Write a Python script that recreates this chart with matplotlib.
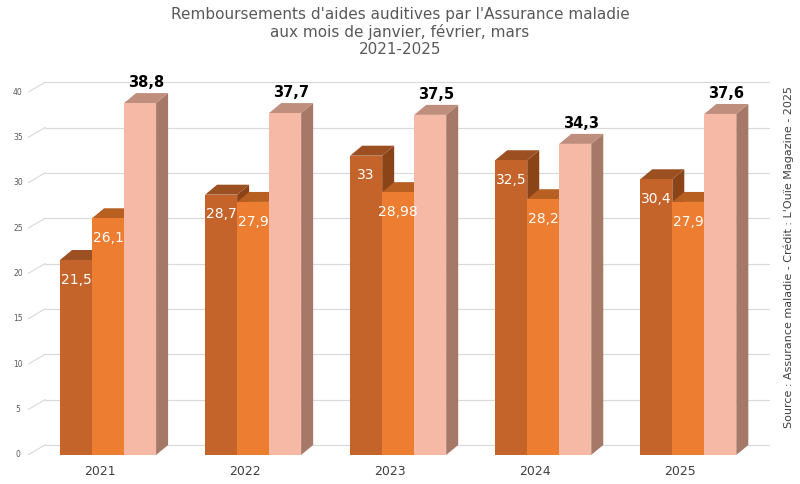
import matplotlib
matplotlib.use("Agg")
import matplotlib.pyplot as plt
from matplotlib.patches import Polygon
import numpy as np

years = ["2021", "2022", "2023", "2024", "2025"]
s1 = [21.5, 28.7, 33, 32.5, 30.4]
s2 = [26.1, 27.9, 28.98, 28.2, 27.9]
s3 = [38.8, 37.7, 37.5, 34.3, 37.6]
lab1 = ["21,5", "28,7", "33", "32,5", "30,4"]
lab2 = ["26,1", "27,9", "28,98", "28,2", "27,9"]
lab3 = ["38,8", "37,7", "37,5", "34,3", "37,6"]
yticks = [0, 5, 10, 15, 20, 25, 30, 35, 40]

colors = [("#C5642A", "#8A4418", "#9C4F21"),
          ("#ED7D31", "#A9561F", "#B85F22"),
          ("#F5B9A5", "#A57868", "#C08E7D")]

fig = plt.figure(figsize=(8, 4.84), dpi=100)
ax = fig.add_axes([0.035, 0.06, 0.928, 0.787])
ax.set_xlim(-0.552, 4.566)
ax.set_ylim(0, 42)
ax.axis("off")

w = 32 / 145
dx = 12 / 145
dy = 1.1
gx0 = -0.552 + 17 / 145
for t in yticks:
    ax.plot([gx0, 4.566], [t + dy, t + dy], color="#D9D9D9", lw=0.8, zorder=0)
    ax.plot([-0.552, gx0], [t, t + dy], color="#D9D9D9", lw=0.8, zorder=0)
    ax.text(-0.552 - 10 / 145, t, str(t), fontsize=5.5, color="#595959",
            ha="center", va="center")

for i in range(len(years)):
    for k, (vals, labs) in enumerate([(s1, lab1), (s2, lab2), (s3, lab3)]):
        v = vals[i]
        x0 = i - 1.5 * w + k * w
        front, side, top = colors[k]
        z = 2 + k
        ax.add_patch(Polygon([(x0 + w, 0), (x0 + w + dx, dy), (x0 + w + dx, v + dy), (x0 + w, v)],
                             closed=True, fc=side, ec="none", zorder=z))
        ax.add_patch(Polygon([(x0, v), (x0 + dx, v + dy), (x0 + w + dx, v + dy), (x0 + w, v)],
                             closed=True, fc=top, ec="none", zorder=z))
        ax.bar(x0, v, width=w, align="edge", color=front, zorder=z)
        if k < 2:
            ax.text(x0 + w / 2, v - 1.4, labs[i], color="white", fontsize=10,
                    ha="center", va="top", zorder=10)
        else:
            ax.text(x0 + w / 2 + dx / 2, v + dy + 0.3, labs[i], color="black", fontsize=10.5,
                    fontweight="bold", ha="center", va="bottom", zorder=10)
    ax.text(i - 8 / 145, -1.8, years[i], fontsize=9, color="#404040", ha="center", va="center")

fig.text(0.5, 0.985, "Remboursements d'aides auditives par l'Assurance maladie\naux mois de janvier, février, mars\n2021-2025",
         ha="center", va="top", fontsize=11, color="#595959", linespacing=1.15)
fig.text(0.986, 0.47, "Source : Assurance maladie - Crédit : L'Ouïe Magazine - 2025",
         rotation=90, ha="center", va="center", fontsize=8, color="#404040")
fig.savefig("out.png", dpi=100, facecolor="white")
